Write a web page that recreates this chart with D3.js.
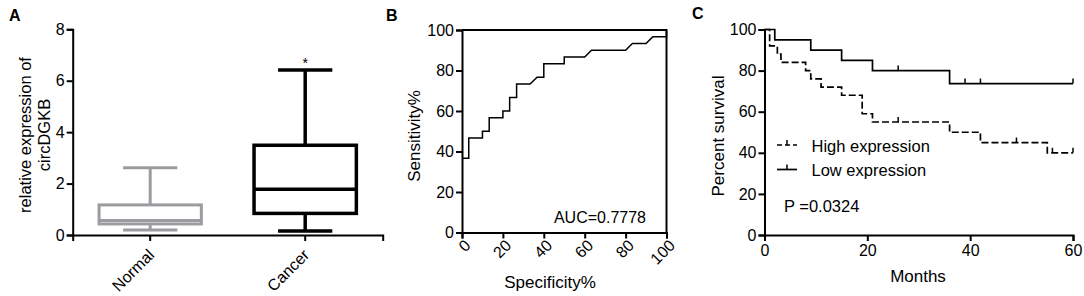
<!DOCTYPE html>
<html><head><meta charset="utf-8">
<script src="https://cdn.jsdelivr.net/npm/d3@7"></script>
<style>
html,body{margin:0;padding:0;background:#fff;}
svg{display:block;}
text{font-family:'Liberation Sans',Arial,sans-serif;fill:#000;}
</style></head>
<body>
<svg id="chart" width="1084" height="296"></svg>
<script>
// ---------- Panel A data (box plot) ----------
const categories = ["Normal", "Cancer"];
const boxMin    = [0.19, 0.16];
const boxQ1     = [0.43, 0.84];
const boxMedian = [0.56, 1.78];
const boxQ3     = [1.17, 3.49];
const boxMax    = [2.62, 6.42];
const boxColors = ["#9c9ca0", "#000000"];
const yTicksA = [0, 2, 4, 6, 8];

// ---------- Panel B data (ROC) ----------
const specificity = [0, 3.3, 3.3, 10, 10, 13.3, 13.3, 20, 20, 23.3, 23.3, 26.7, 26.7, 33.3, 36.7, 40, 40, 50, 50, 60, 63.3, 80, 83.3, 90, 93.3, 100, 100];
const sensitivity = [36.7, 36.7, 46.7, 46.7, 50, 50, 56.7, 56.7, 60, 60, 66.7, 66.7, 73.3, 73.3, 76.7, 76.7, 83.3, 83.3, 86.7, 86.7, 90, 90, 93.3, 93.3, 96.7, 96.7, 100];
const ticksB = [0, 20, 40, 60, 80, 100];
const aucLabel = "AUC=0.7778";

// ---------- Panel C data (Kaplan-Meier) ----------
const highTimes = [0, 1, 2.5, 3.2, 8, 9, 11, 15, 19, 21, 36, 42, 55, 60];
const highSurv  = [100, 92, 88, 84, 80, 76, 72, 68, 59, 55, 50, 45, 40, 40];
const highCensorTimes = [26, 49, 56, 60];
const lowTimes = [0, 2, 9, 15, 21, 36, 60];
const lowSurv  = [100, 95, 90, 85, 80, 73.7, 73.7];
const lowCensorTimes = [26, 39, 42, 60];
const seriesNames = ["High expression", "Low expression"];
const xTicksC = [0, 20, 40, 60];
const yTicksC = [0, 20, 40, 60, 80, 100];
const pLabel = "P =0.0324";

const svg = d3.select("#chart");
svg.append("rect").attr("width", 1084).attr("height", 296).attr("fill", "#fff");

function styleAxis(g, w) {
  g.selectAll("path.domain").attr("stroke", "#000").attr("stroke-width", w);
  g.selectAll(".tick line").attr("stroke", "#000").attr("stroke-width", w);
  g.selectAll(".tick text").attr("font-size", 16).attr("fill", "#000")
    .attr("font-family", "'Liberation Sans',Arial,sans-serif");
}

// ================= Panel A =================
const xA = d3.scaleBand().domain(categories).range([72.7, 382.7]);
const yA = d3.scaleLinear().domain([0, 8]).range([235, 29.3]);
const gA = svg.append("g");
const axAy = gA.append("g").attr("transform", "translate(72.7,0)")
  .call(d3.axisLeft(yA).tickValues(yTicksA).tickSizeOuter(0).tickSize(6).tickPadding(2));
styleAxis(axAy, 2);
const axAx = gA.append("g").attr("transform", "translate(0,235)")
  .call(d3.axisBottom(xA).tickSizeOuter(0).tickSize(6));
styleAxis(axAx, 2);
axAx.selectAll(".tick text").attr("text-anchor", "end")
  .attr("x", 0).attr("y", 0).attr("dy", 0)
  .attr("transform", "translate(5,257) rotate(-45)");
// fix: translate relative to tick group (tick group is at y=0 of axis)
axAx.selectAll(".tick text").attr("transform", "translate(5,21) rotate(-45)");

const bw = xA.bandwidth();
categories.forEach((c, i) => {
  const cx = xA(c) + bw / 2;
  const half = bw * 0.33, cap = bw * 0.175;
  const col = boxColors[i];
  const sw = i === 0 ? 3 : 3.5;
  const g = gA.append("g").attr("stroke", col).attr("stroke-width", sw).attr("fill", "none");
  g.append("line").attr("x1", cx).attr("x2", cx).attr("y1", yA(boxMax[i])).attr("y2", yA(boxQ3[i]));
  g.append("line").attr("x1", cx).attr("x2", cx).attr("y1", yA(boxQ1[i])).attr("y2", yA(boxMin[i]));
  g.append("line").attr("x1", cx - cap).attr("x2", cx + cap).attr("y1", yA(boxMax[i])).attr("y2", yA(boxMax[i]));
  g.append("line").attr("x1", cx - cap).attr("x2", cx + cap).attr("y1", yA(boxMin[i])).attr("y2", yA(boxMin[i]));
  g.append("rect").attr("x", cx - half).attr("width", 2 * half)
    .attr("y", yA(boxQ3[i])).attr("height", yA(boxQ1[i]) - yA(boxQ3[i]));
  g.append("line").attr("x1", cx - half).attr("x2", cx + half).attr("y1", yA(boxMedian[i])).attr("y2", yA(boxMedian[i]));
});
gA.append("text").attr("x", xA("Cancer") + bw / 2).attr("y", yA(boxMax[1]) - 2)
  .attr("text-anchor", "middle").attr("font-size", 14).text("*");
const ttlA = gA.append("text").attr("transform", "translate(31,135) rotate(-90)")
  .attr("text-anchor", "middle").attr("font-size", 16.5);
ttlA.append("tspan").attr("x", 0).attr("dy", 0).text("relative expression of");
ttlA.append("tspan").attr("x", 0).attr("dy", 19).text("circDGKB");
svg.append("text").attr("x", 9).attr("y", 21).attr("font-size", 16).attr("font-weight", "bold").text("A");

// ================= Panel B =================
const xB = d3.scaleLinear().domain([0, 100]).range([462, 666.5]);
const yB = d3.scaleLinear().domain([0, 100]).range([232.5, 30]);
const gB = svg.append("g");
gB.append("path").attr("fill", "none").attr("stroke", "#000").attr("stroke-width", 2)
  .attr("d", `M${xB(0)},${yB(100)}H${xB(100)}V${yB(0)}`);
const axBy = gB.append("g").attr("transform", `translate(${xB(0)},0)`)
  .call(d3.axisLeft(yB).tickValues(ticksB).tickSizeOuter(0).tickSize(6).tickPadding(2));
styleAxis(axBy, 2);
const axBx = gB.append("g").attr("transform", `translate(0,${yB(0)})`)
  .call(d3.axisBottom(xB).tickValues(ticksB).tickSizeOuter(0).tickSize(6));
styleAxis(axBx, 2);
axBx.selectAll(".tick text").attr("text-anchor", "end").attr("x", 0).attr("y", 0).attr("dy", 0)
  .attr("transform", "translate(9,14) rotate(-45)");
const rocLine = d3.line().x((d, i) => xB(specificity[i])).y((d, i) => yB(sensitivity[i]));
gB.append("path").attr("fill", "none").attr("stroke", "#000").attr("stroke-width", 1.5)
  .attr("d", rocLine(specificity));
gB.append("text").attr("x", 646).attr("y", 223).attr("text-anchor", "end").attr("font-size", 16).text(aucLabel);
gB.append("text").attr("transform", "translate(420,136) rotate(-90)").attr("text-anchor", "middle")
  .attr("font-size", 17).text("Sensitivity%");
gB.append("text").attr("x", 550).attr("y", 288).attr("text-anchor", "middle").attr("font-size", 17).text("Specificity%");
svg.append("text").attr("x", 386).attr("y", 21).attr("font-size", 16).attr("font-weight", "bold").text("B");

// ================= Panel C =================
const xC = d3.scaleLinear().domain([0, 60]).range([764.5, 1073]);
const yC = d3.scaleLinear().domain([0, 100]).range([235, 29.5]);
const gC = svg.append("g");
const axCy = gC.append("g").attr("transform", `translate(${xC(0)},0)`)
  .call(d3.axisLeft(yC).tickValues(yTicksC).tickSizeOuter(0).tickSize(6).tickPadding(2));
styleAxis(axCy, 2);
const axCx = gC.append("g").attr("transform", `translate(0,${yC(0)})`)
  .call(d3.axisBottom(xC).tickValues(xTicksC).tickSizeOuter(0).tickSize(6).tickPadding(4));
styleAxis(axCx, 2);

const stepLine = d3.line().curve(d3.curveStepAfter);
function kmPath(times, surv) {
  return stepLine(times.map((t, i) => [xC(t), yC(surv[i])]));
}
function survAt(times, surv, t) {
  let v = surv[0];
  for (let i = 0; i < times.length; i++) if (times[i] <= t) v = surv[i];
  return v;
}
gC.append("path").attr("fill", "none").attr("stroke", "#000").attr("stroke-width", 1.7)
  .attr("stroke-dasharray", "7,3").attr("d", kmPath(highTimes, highSurv));
gC.append("path").attr("fill", "none").attr("stroke", "#000").attr("stroke-width", 1.7)
  .attr("d", kmPath(lowTimes, lowSurv));
gC.selectAll("line.ch").data(highCensorTimes).enter().append("line")
  .attr("stroke", "#000").attr("stroke-width", 1.5)
  .attr("x1", d => xC(d)).attr("x2", d => xC(d))
  .attr("y1", d => yC(survAt(highTimes, highSurv, d))).attr("y2", d => yC(survAt(highTimes, highSurv, d)) - 5);
gC.selectAll("line.cl").data(lowCensorTimes).enter().append("line")
  .attr("stroke", "#000").attr("stroke-width", 1.5)
  .attr("x1", d => xC(d)).attr("x2", d => xC(d))
  .attr("y1", d => yC(survAt(lowTimes, lowSurv, d))).attr("y2", d => yC(survAt(lowTimes, lowSurv, d)) - 5);

// legend
const legY = [145, 169.5];
seriesNames.forEach((name, i) => {
  const y = legY[i];
  gC.append("line").attr("x1", 777).attr("x2", 797).attr("y1", y).attr("y2", y)
    .attr("stroke", "#000").attr("stroke-width", 1.7).attr("stroke-dasharray", i === 0 ? "5,3" : null);
  gC.append("line").attr("x1", 787).attr("x2", 787).attr("y1", y).attr("y2", y - 5)
    .attr("stroke", "#000").attr("stroke-width", 1.5);
  gC.append("text").attr("x", 811.5).attr("y", y + 6.5).attr("font-size", 16.5).text(name);
});
gC.append("text").attr("x", 784).attr("y", 211.5).attr("font-size", 16.5).text(pLabel);
gC.append("text").attr("transform", "translate(724,136) rotate(-90)").attr("text-anchor", "middle")
  .attr("font-size", 17).text("Percent survival");
gC.append("text").attr("x", 918).attr("y", 282).attr("text-anchor", "middle").attr("font-size", 17).text("Months");
svg.append("text").attr("x", 692).attr("y", 19).attr("font-size", 16).attr("font-weight", "bold").text("C");
</script>
</body></html>
